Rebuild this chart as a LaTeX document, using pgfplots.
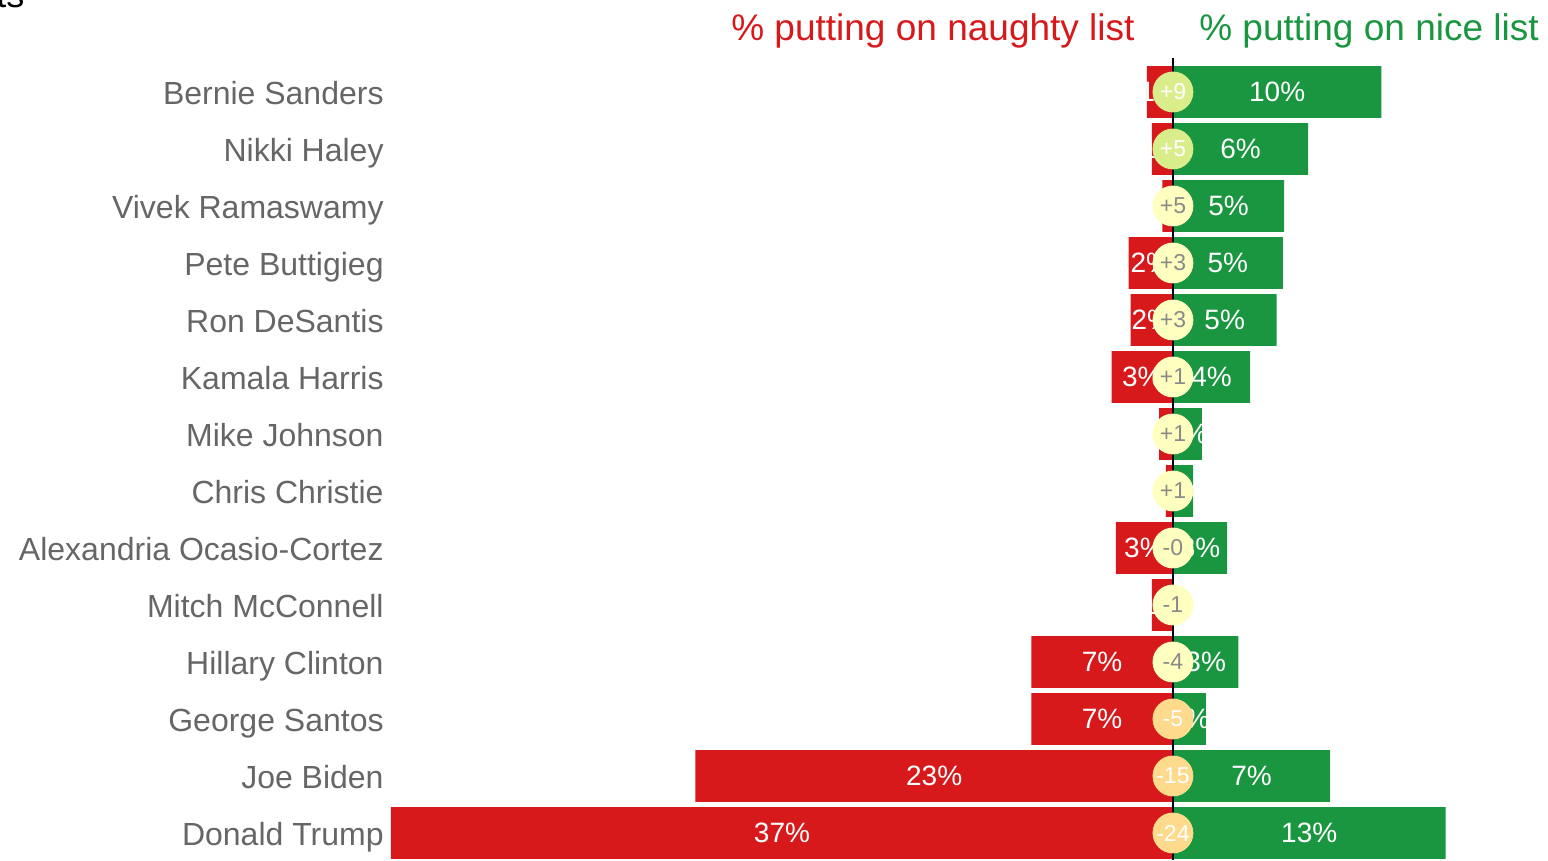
\documentclass[border=0pt]{standalone}
\usepackage{fontspec}
\setmainfont{Liberation Sans}
\usepackage{pgfplots}
\usepackage{pgfplotstable}
\pgfplotsset{compat=1.18}

\definecolor{naughty}{HTML}{D7191C}
\definecolor{nice}{HTML}{1A9641}
\definecolor{cgreen}{HTML}{D9EE8B}
\definecolor{cyellow}{HTML}{FFFFC0}
\definecolor{corange}{HTML}{FDDA8C}
\definecolor{namegray}{HTML}{666666}
\definecolor{netgray}{HTML}{8A8A8A}

% y = row (0 = top), naughty / nice in %, labels rounded
\pgfplotstableread{
y naughty nice nlab glab
0  1.23  9.86  1  10
1  1.00  6.40  1  6
2  0.50  5.26  1  5
3  2.10  5.20  2  5
4  2.00  4.90  2  5
5  2.90  3.65  3  4
6  0.66  1.37  1  1
7  0.33  0.95  0  1
8  2.70  2.56  3  3
9  1.00  0.00  1  0
10 6.70  3.10  7  3
11 6.70  1.56  7  2
12 22.60 7.44  23 7
13 37.00 12.90 37 13
}\lists

\pgfplotstableread{
x y lab
0 0 +9
0 1 +5
}\netgreen

\pgfplotstableread{
x y lab
0 2 +5
0 3 +3
0 4 +3
0 5 +1
0 6 +1
0 7 +1
0 8 -0
0 9 -1
0 10 -4
}\netyellow

\pgfplotstableread{
x y lab
0 11 -5
0 12 -15
0 13 -24
}\netorange

\begin{document}
\begin{tikzpicture}
\begin{axis}[
  scale only axis,
  width=578.5pt, height=430pt,
  xmin=-37, xmax=17.747,
  ymin=-1.614, ymax=13.474,
  y dir=reverse,
  enlargelimits=false,
  clip=false,
  axis line style={draw=none},
  xtick=\empty,
  ytick={0,...,13},
  yticklabels={Bernie Sanders, Nikki Haley, Vivek Ramaswamy, Pete Buttigieg,
    Ron DeSantis, Kamala Harris, Mike Johnson, Chris Christie,
    Alexandria Ocasio-Cortez, Mitch McConnell, Hillary Clinton,
    George Santos, Joe Biden, Donald Trump},
  major tick length=0pt,
  yticklabel shift=3.5pt,
  y tick label style={font=\fontsize{16}{18}\selectfont, text=namegray,
    inner sep=0pt, anchor=east, text height=11.5pt, text depth=0pt, yshift=-0.5pt},
  net/.style={only marks, mark=*, mark size=10pt, draw=none, color=#1,
    mark options={draw=none, fill=#1},
    point meta=explicit symbolic, nodes near coords},
]
% bars
\addplot[xbar, bar width=0.912, bar shift=0pt, fill=naughty, draw=none]
  table[x expr=-\thisrow{naughty}, y=y] {\lists};
\addplot[xbar, bar width=0.912, bar shift=0pt, fill=nice, draw=none]
  table[x=nice, y=y] {\lists};

% bar labels
\addplot[only marks, mark=none, point meta=explicit symbolic,
  nodes near coords={\pgfplotspointmeta\%},
  every node near coord/.append style={anchor=center, text=white, font=\fontsize{14}{16}\selectfont}]
  table[x expr=-\thisrow{naughty}/2, y=y, meta=nlab] {\lists};
\addplot[only marks, mark=none, point meta=explicit symbolic,
  nodes near coords={\pgfplotspointmeta\%},
  every node near coord/.append style={anchor=center, text=white, font=\fontsize{14}{16}\selectfont}]
  table[x expr=\thisrow{nice}/2, y=y, meta=glab] {\lists};

% centre line
\addplot[black, line width=0.7pt, mark=none] coordinates {(0,-0.6) (0,13.474)};

% net circles
\addplot[net=cgreen,
  every node near coord/.append style={anchor=center, text=white, font=\fontsize{11.5}{13}\selectfont}]
  table[x=x, y=y, meta=lab] {\netgreen};
\addplot[net=cyellow,
  every node near coord/.append style={anchor=center, text=netgray, font=\fontsize{11.5}{13}\selectfont}]
  table[x=x, y=y, meta=lab] {\netyellow};
\addplot[net=corange,
  every node near coord/.append style={anchor=center, text=white, font=\fontsize{11.5}{13}\selectfont}]
  table[x=x, y=y, meta=lab] {\netorange};

% headers
\node[anchor=base east, text=naughty, font=\fontsize{18.5}{20}\selectfont, inner sep=0pt]
  at (axis cs:-1.8,-0.912) {\% putting on naughty list};
\node[anchor=base west, text=nice, font=\fontsize{18.5}{20}\selectfont, inner sep=0pt]
  at (axis cs:1.23,-0.912) {\% putting on nice list};
% cut-off title fragment
\node[anchor=base east, font=\fontsize{18}{20}\selectfont, inner sep=0pt]
  at (axis cs:-54.33,-1.474) {ts};
\end{axis}
\pgfresetboundingbox
\path[use as bounding box] ([xshift=-195.5pt]current axis.south west) rectangle (current axis.north east);
\end{tikzpicture}
\end{document}
